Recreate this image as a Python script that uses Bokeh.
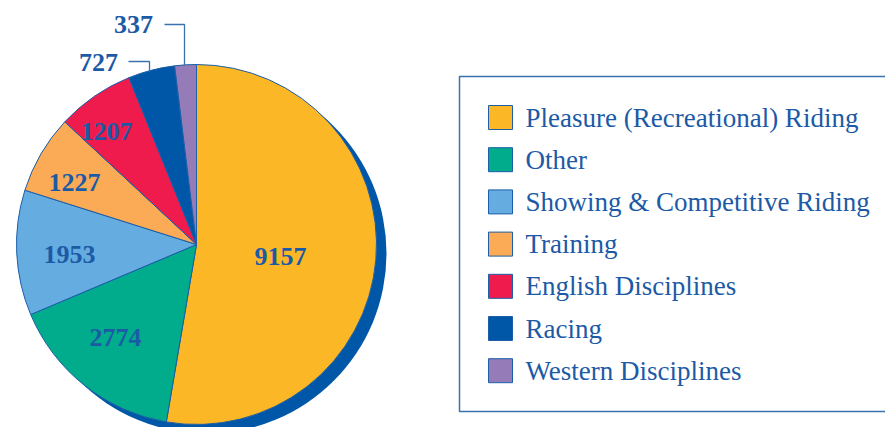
import math
from bokeh.plotting import figure
from bokeh.models import Range1d, ColumnDataSource
from bokeh.core.properties import value
from bokeh.embed import file_html
from bokeh.resources import INLINE

categories = ["Pleasure (Recreational) Riding", "Other", "Showing & Competitive Riding",
              "Training", "English Disciplines", "Racing", "Western Disciplines"]
counts = [9157, 2774, 1953, 1227, 1207, 727, 337]
colors = ["#FBB726", "#00AC8C", "#65ACE0", "#FBAA55", "#EE1B4C", "#0057A8", "#957BB7"]

W, H = 885, 427
TEXT = "#1C5AA6"
EDGE = "#1C5EA8"
SERIF = "Liberation Serif"

p = figure(width=W, height=H, output_backend="svg", toolbar_location=None,
           x_range=Range1d(0, W), y_range=Range1d(0, H), min_border=0)
p.axis.visible = False
p.grid.visible = False
p.outline_line_color = None
p.background_fill_color = "white"

def sx(x):
    return x

def sy(y):
    return H - y

cx, cy, r = sx(196), sy(244), 180

# shadow
p.circle(x=[cx + 10], y=[cy - 9], radius=r, fill_color="#0057A8", line_color=None)

total = sum(counts)
starts, ends = [], []
cum = 0.0
for c in counts:
    starts.append(math.pi / 2 - cum / total * 2 * math.pi)
    cum += c
    ends.append(math.pi / 2 - cum / total * 2 * math.pi)

src = ColumnDataSource(dict(start=starts, end=ends, color=colors, cat=categories))
p.wedge(x=cx, y=cy, radius=r, start_angle="start", end_angle="end", direction="clock",
        fill_color="color", line_color=EDGE, line_width=1, source=src)

# value labels
lab_x = [sx(280), sx(115), sx(69), sx(74), sx(106), sx(98), sx(133)]
lab_y = [sy(256), sy(337), sy(254), sy(182), sy(131), sy(62), sy(24)]
p.text(x=lab_x, y=lab_y, text=[str(c) for c in counts], text_align="center",
       text_baseline="middle", text_color=TEXT, text_font=value(SERIF),
       text_font_size="26px", text_font_style="bold")

# leader lines
p.line(x=[sx(128), sx(149), sx(149)], y=[sy(61), sy(61), sy(71)], line_color="#3A72B0", line_width=1.3)
p.line(x=[sx(164), sx(184), sx(184)], y=[sy(24), sy(24), sy(65)], line_color="#3A72B0", line_width=1.3)

# legend box
p.quad(left=[sx(459)], right=[sx(905)], top=[sy(76)], bottom=[sy(411)],
       fill_color=None, line_color="#3A72B0", line_width=1.5)

row_y = [sy(117 + 42.2 * i) for i in range(len(categories))]
p.rect(x=[sx(500)] * len(categories), y=row_y, width=24, height=24,
       fill_color=colors, line_color=EDGE, line_width=1)
p.text(x=[sx(525)] * len(categories), y=row_y, text=categories, text_align="left",
       text_baseline="middle", text_color=TEXT, text_font=value(SERIF),
       text_font_size="27px")

open("out.html", "w").write(file_html(p, INLINE))
